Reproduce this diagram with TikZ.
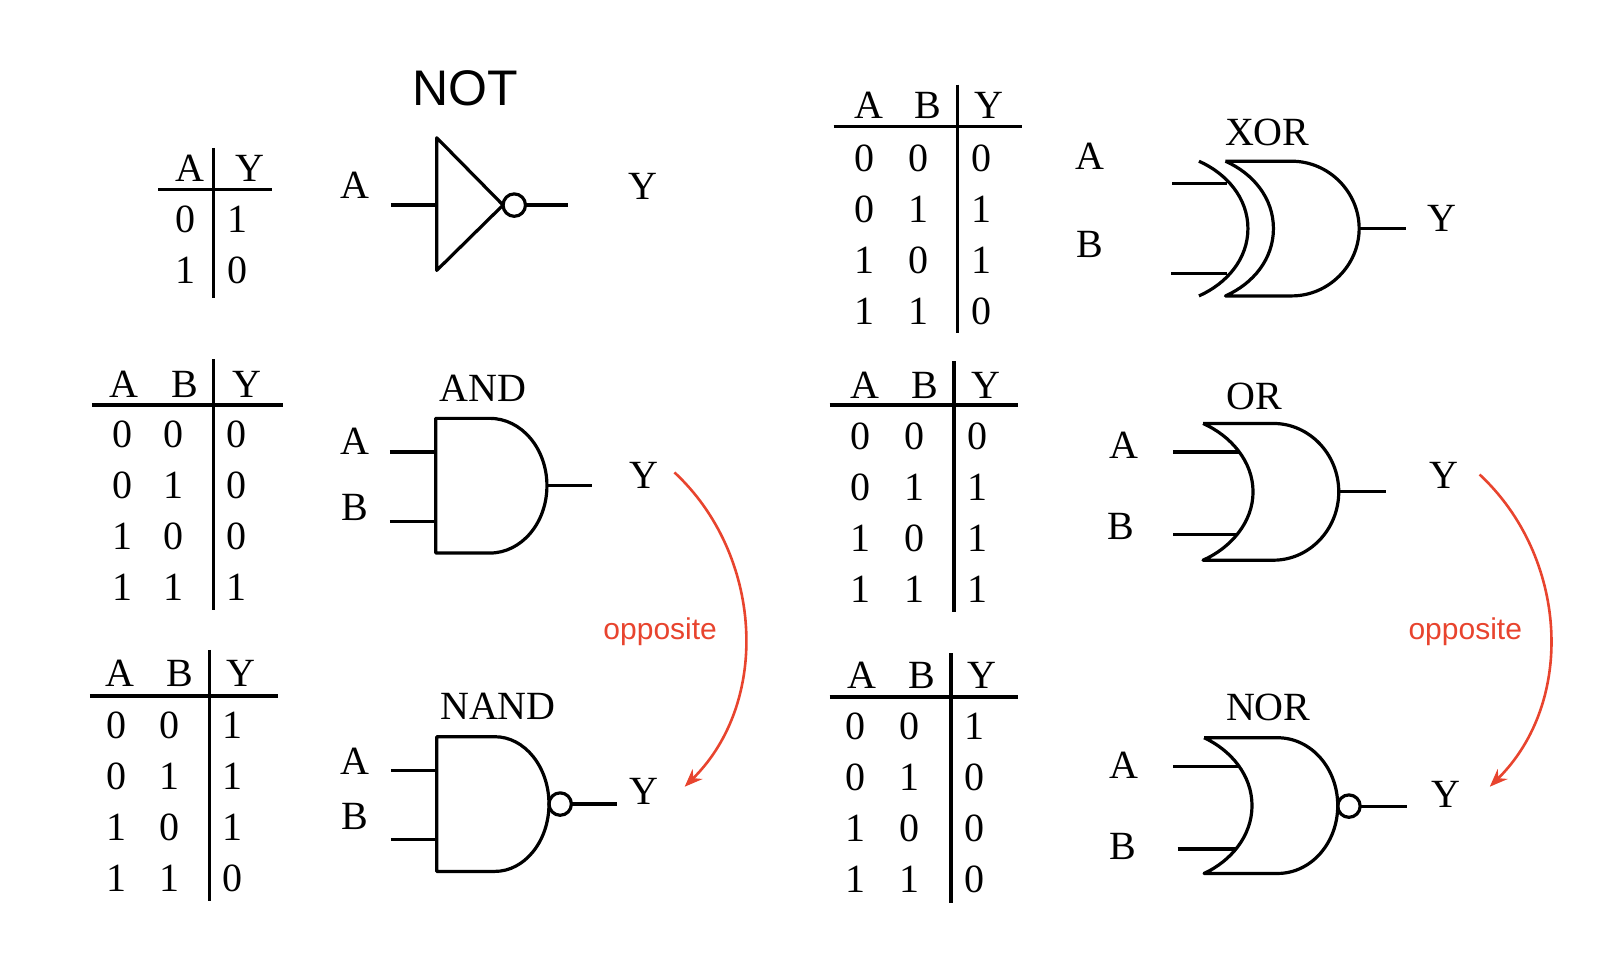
\documentclass[tikz,border=0pt]{standalone}
\usepackage{fontspec}
\setmainfont{Liberation Serif}
\newfontfamily\sansf{Liberation Sans}
\usetikzlibrary{arrows.meta}
\definecolor{oppred}{RGB}{232,68,46}

\begin{document}
\begin{tikzpicture}[x=0.51pt,y=-0.51pt,
    txt/.style={inner sep=0pt,font=\fontsize{20}{24}\selectfont},
    rule/.style={line width=1.6pt},
    gate/.style={line width=1.6pt,line join=round},
    opp/.style={oppred,line width=1.3pt,-{Stealth[length=9pt,width=7pt]}},
    opptxt/.style={inner sep=0pt,text=oppred,font=\sansf\fontsize{15}{18}\selectfont}]
    \useasboundingbox (0,0) rectangle (1570,947); % 画布大小

    % 非门真值表
    \node[txt] (notA) at (186,165) {A};
    \node[txt] (notY) at (245,165) {Y};
    \draw[rule] (155,186) -- (267,186); % 横线
    \draw[rule] (209,145) -- (209,292); % 竖线
    \foreach \a/\y [count=\i] in {0/1,1/0} {
        \node[txt] (nota\i) at (182,{165+50*\i}) {\a};
        \node[txt] (noty\i) at (233,{165+50*\i}) {\y};
    }

    % 与门真值表
    \node[txt] (andA) at (121,377) {A};
    \node[txt] (andB) at (181,377) {B};
    \node[txt] (andY) at (242,377) {Y};
    \draw[rule] (90,397) -- (277,397);
    \draw[rule] (209,352) -- (209,598);
    \foreach \a/\b/\y [count=\i] in {0/0/0,0/1/0,1/0/0,1/1/1} {
        \node[txt] (anda\i) at (120,{376+50*\i}) {\a};
        \node[txt] (andb\i) at (170,{376+50*\i}) {\b};
        \node[txt] (andy\i) at (232,{376+50*\i}) {\y};
    }

    % 与非门真值表
    \node[txt] (nandA) at (118,660) {A};
    \node[txt] (nandB) at (176,660) {B};
    \node[txt] (nandY) at (236,660) {Y};
    \draw[rule] (88,682) -- (272,682);
    \draw[rule] (205,637) -- (205,883);
    \foreach \a/\b/\y [count=\i] in {0/0/1,0/1/1,1/0/1,1/1/0} {
        \node[txt] (nanda\i) at (114,{661+50*\i}) {\a};
        \node[txt] (nandb\i) at (166,{661+50*\i}) {\b};
        \node[txt] (nandy\i) at (228,{661+50*\i}) {\y};
    }

    % 异或门真值表
    \node[txt] (xorA) at (852,103) {A};
    \node[txt] (xorB) at (909,103) {B};
    \node[txt] (xorY) at (969,103) {Y};
    \draw[rule] (817,124) -- (1002,124);
    \draw[rule] (938,83) -- (938,326);
    \foreach \a/\b/\y [count=\i] in {0/0/0,0/1/1,1/0/1,1/1/0} {
        \node[txt] (xora\i) at (847,{105+50*\i}) {\a};
        \node[txt] (xorb\i) at (900,{105+50*\i}) {\b};
        \node[txt] (xory\i) at (962,{105+50*\i}) {\y};
    }

    % 或门真值表
    \node[txt] (orA) at (848,378) {A};
    \node[txt] (orB) at (906,378) {B};
    \node[txt] (orY) at (966,378) {Y};
    \draw[rule] (813,397) -- (998,397);
    \draw[rule] (935,354) -- (935,600);
    \foreach \a/\b/\y [count=\i] in {0/0/0,0/1/1,1/0/1,1/1/1} {
        \node[txt] (ora\i) at (843,{378+50*\i}) {\a};
        \node[txt] (orb\i) at (896,{378+50*\i}) {\b};
        \node[txt] (ory\i) at (958,{378+50*\i}) {\y};
    }

    % 或非门真值表
    \node[txt] (norA) at (845,662) {A};
    \node[txt] (norB) at (903,662) {B};
    \node[txt] (norY) at (962,662) {Y};
    \draw[rule] (813,683) -- (998,683);
    \draw[rule] (932,640) -- (932,885);
    \foreach \a/\b/\y [count=\i] in {0/0/1,0/1/0,1/0/0,1/1/0} {
        \node[txt] (nora\i) at (838,{662+50*\i}) {\a};
        \node[txt] (norb\i) at (891,{662+50*\i}) {\b};
        \node[txt] (nory\i) at (955,{662+50*\i}) {\y};
    }

    % 非门
    \node[inner sep=0pt,font=\sansf\fontsize{25}{30}\selectfont] (nottitle) at (456,87) {NOT};
    \node[txt] (notin) at (348,182) {A};
    \node[txt] (notout) at (630,183) {Y};
    \draw[gate] (383,201) -- (428,201); % 输入
    \draw[gate] (428,135) -- (493,201) -- (428,265) -- cycle; % 三角形
    \draw[gate] (504,201) circle[radius=5.6pt]; % 小圆圈
    \draw[gate] (515,201) -- (557,201); % 输出

    % 与门
    \node[txt] (andtitle) at (473,381) {AND};
    \node[txt] (andinA) at (348,432) {A};
    \node[txt] (andinB) at (348,497) {B};
    \node[txt] (andout) at (631,466) {Y};
    \draw[gate] (382,443) -- (427,443);
    \draw[gate] (382,511) -- (427,511);
    \draw[gate] (480,410) -- (427,410) -- (427,542) -- (480,542)
        .. controls (511,542) and (536,512.5) .. (536,476)
        .. controls (536,439.5) and (511,410) .. (480,410);
    \draw[gate] (536,476) -- (580,476);

    % 与非门
    \node[txt] (nandtitle) at (488,692) {NAND};
    \node[txt] (nandinA) at (348,746) {A};
    \node[txt] (nandinB) at (348,800) {B};
    \node[txt] (nandout) at (631,776) {Y};
    \draw[gate] (383,755) -- (428,755);
    \draw[gate] (383,823) -- (428,823);
    \draw[gate] (485,722) -- (428,722) -- (428,854) -- (485,854)
        .. controls (514,854) and (538,824.5) .. (538,788)
        .. controls (538,751.5) and (514,722) .. (485,722);
    \draw[gate] (549,788) circle[radius=5.6pt];
    \draw[gate] (560,788) -- (605,788);

    % 异或门
    \node[txt] (xortitle) at (1242,130) {XOR};
    \node[txt] (xorinA) at (1068,153) {A};
    \node[txt] (xorinB) at (1068,240) {B};
    \node[txt] (xorout) at (1413,214) {Y};
    \draw[gate] (1149,180) -- (1202,180);
    \draw[gate] (1148,268) -- (1202,268);
    \draw[gate] (1175,158) .. controls (1202,170) and (1223,194) .. (1223,224)
        .. controls (1223,254) and (1202,278) .. (1175,290); % 外侧弧线
    \draw[gate] (1201,158) -- (1266,158) .. controls (1302,158) and (1332,188) .. (1332,224)
        .. controls (1332,260) and (1302,290) .. (1266,290) -- (1201,290)
        .. controls (1228,278) and (1248,254) .. (1248,224)
        .. controls (1248,194) and (1228,170) .. (1201,158);
    \draw[gate] (1332,224) -- (1378,224);

    % 或门
    \node[txt] (ortitle) at (1229,389) {OR};
    \node[txt] (orinA) at (1101,436) {A};
    \node[txt] (orinB) at (1098,516) {B};
    \node[txt] (orout) at (1415,466) {Y};
    \draw[gate] (1150,443) -- (1215,443);
    \draw[gate] (1150,524) -- (1213,524);
    \draw[gate] (1179,415) -- (1248,415) .. controls (1283,415) and (1312,445) .. (1312,482)
        .. controls (1312,519) and (1283,549) .. (1248,549) -- (1179,549)
        .. controls (1206,537) and (1228,512) .. (1228,482)
        .. controls (1228,452) and (1206,427) .. (1179,415);
    \draw[gate] (1312,482) -- (1358,482);

    % 或非门
    \node[txt] (nortitle) at (1243,693) {NOR};
    \node[txt] (norinA) at (1101,750) {A};
    \node[txt] (norinB) at (1100,830) {B};
    \node[txt] (norout) at (1417,779) {Y};
    \draw[gate] (1150,751) -- (1213,751);
    \draw[gate] (1154,832) -- (1211,832);
    \draw[gate] (1180,723) -- (1252,723) .. controls (1285,723) and (1311,753) .. (1311,789.5)
        .. controls (1311,826) and (1285,856) .. (1252,856) -- (1180,856)
        .. controls (1206,844) and (1227,819.5) .. (1227,789.5)
        .. controls (1227,759.5) and (1206,735) .. (1180,723);
    \draw[gate] (1322,790) circle[radius=5.6pt];
    \draw[gate] (1333,790) -- (1379,790);

    % 红色箭头
    \coordinate (andarr) at (661,463);
    \coordinate (nandarr) at (671,771);
    \draw[opp] (andarr) .. controls (747,543) and (756,687) .. (nandarr);
    \node[opptxt] (oppleft) at (647,619) {opposite};
    \coordinate (orarr) at (1450,465);
    \coordinate (norarr) at (1460,771);
    \draw[opp] (orarr) .. controls (1536,545) and (1545,687) .. (norarr);
    \node[opptxt] (oppright) at (1436,619) {opposite};
\end{tikzpicture}
\end{document}
